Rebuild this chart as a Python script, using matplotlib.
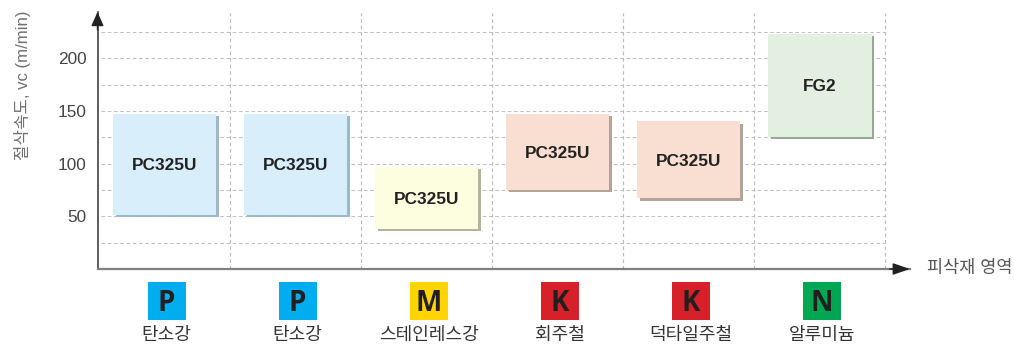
import matplotlib
matplotlib.use("Agg")
import matplotlib.pyplot as plt
from matplotlib.patches import Rectangle
import matplotlib.patheffects as pe

plt.rcParams["font.family"] = ["Liberation Sans", "Noto Sans CJK KR"]

# Data
materials = ["탄소강", "탄소강", "스테인레스강", "회주철", "덕타일주철", "알루미늄"]
iso_codes = ["P", "P", "M", "K", "K", "N"]
grades = ["PC325U", "PC325U", "PC325U", "PC325U", "PC325U", "FG2"]
speed_low = [51, 51, 38, 75, 67, 125]
speed_high = [147, 147, 97, 147, 140, 223]
y_ticks = [50, 100, 150, 200]
grid_levels = [25, 50, 75, 100, 125, 150, 175, 200, 225]

box_colors = ["#d8eefa", "#d8eefa", "#fdfde0", "#f9dfd1", "#f9dfd1", "#e3efe0"]
shadow_colors = ["#9db8c7", "#9db8c7", "#b4b49c", "#b5a398", "#b5a398", "#98a896"]
badge_colors = {"P": "#00aeef", "M": "#ffd400", "K": "#d6202a", "N": "#00a651"}

W, H = 1014, 344
fig = plt.figure(figsize=(W / 100, H / 100), dpi=100)
# axes box in pixels: x 97.5-910, y 12-269
ax = fig.add_axes([97.5 / W, (H - 269) / H, (910 - 97.5) / W, (269 - 12) / H])
ax.set_xlim(-0.515, 5.687)
ax.set_ylim(0, 243.8)
ax.patch.set_alpha(0)

for s in ["top", "right"]:
    ax.spines[s].set_visible(False)
ax.spines["left"].set_color("#333333")
ax.spines["left"].set_linewidth(1.1)
ax.spines["bottom"].set_color("#808080")
ax.spines["bottom"].set_linewidth(1.6)

# dashed grid, stops at the last column
n = len(materials)
ax.hlines(grid_levels, -0.49, n - 0.505, colors="#c0c0c0", linewidth=0.75,
          linestyles=(0, (3.5, 2.5)), zorder=1)
ax.vlines([i + 0.495 for i in range(n)], 0, 243, colors="#bcbcbc", linewidth=0.85,
          linestyles=(0, (3, 2.5)), zorder=1)

# speed range boxes
positions = list(range(n))
heights = [h - l for l, h in zip(speed_low, speed_high)]
bars = ax.bar(positions, heights, bottom=speed_low, width=103 / 131,
              color=box_colors, linewidth=0, zorder=3)
for bar, shadow in zip(bars, shadow_colors):
    bar.set_path_effects([
        pe.SimplePatchShadow(offset=(1.6, -1.6), shadow_rgbFace=shadow, alpha=1.0),
        pe.Normal(),
    ])
for i in positions:
    ax.text(i, (speed_low[i] + speed_high[i]) / 2 - 1.2, grades[i], ha="center", va="center",
            fontsize=12.4, fontweight="bold", color="#222222", zorder=4)

# axis ticks
ax.set_xticks([])
ax.set_yticks(y_ticks)
ax.tick_params(axis="y", length=0, pad=8, labelsize=12.4, labelcolor="#444444")
ax.set_ylabel("절삭속도, vc (m/min)", fontsize=12.1, color="#707070")
ax.yaxis.set_label_coords((31 - 97.5) / (910 - 97.5), (269 - 85) / (269 - 12))

# axis arrows
ax.annotate("", xy=(0, 1.0), xytext=(0, 0.93), xycoords="axes fraction",
            arrowprops=dict(arrowstyle="-|>,head_width=0.38,head_length=0.85",
                            color="#222222", lw=1, shrinkA=0, shrinkB=0))
ax.annotate("", xy=(1.0, 0), xytext=(0.975, 0), xycoords="axes fraction",
            arrowprops=dict(arrowstyle="-|>,head_width=0.36,head_length=1.05",
                            color="#222222", lw=1, shrinkA=0, shrinkB=0))
fig.text(927 / W, (H - 268) / H, "피삭재 영역", fontsize=12.6, color="#555555",
         ha="left", va="center")

# ISO badges and material names under the axis
badge_w = 38 / 131
badge_h = 38 / 1.054
for i in positions:
    cx = i + 1.7 / 131 * (1 if i < 2 else 1.2)
    ax.add_patch(Rectangle((cx - badge_w / 2, -12 - badge_h), badge_w, badge_h,
                           facecolor=badge_colors[iso_codes[i]], linewidth=0, clip_on=False))
    ax.text(cx, -11.2 - badge_h / 2, iso_codes[i], ha="center", va="center_baseline",
            fontsize=20, fontweight="bold", family="Open Sans", color="#231f20")
    ax.text(cx, -62.5, materials[i], ha="center", va="center", fontsize=13,
            color="#333333", family=["Noto Sans CJK KR", "DejaVu Sans"])

fig.savefig("out.png", dpi=100, facecolor="white")
